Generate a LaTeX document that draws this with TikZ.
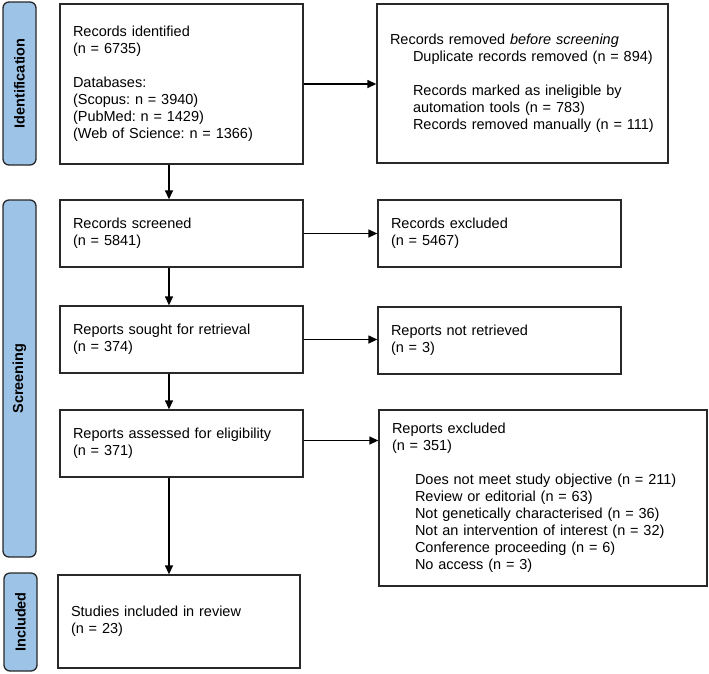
\documentclass[tikz,border=0pt]{standalone}
\usepackage{fontspec}
\setmainfont{Liberation Sans}
\frenchspacing
\usetikzlibrary{arrows.meta}
\definecolor{labfill}{RGB}{157,195,230}
\definecolor{edge}{RGB}{40,40,40}
\begin{document}
\begin{tikzpicture}[x=1pt, y=-1pt,
    box/.style={draw=edge, line width=1.3pt, align=left, inner xsep=13pt, inner ysep=2pt,
        font=\fontsize{14.5}{17}\selectfont},
    lab/.style={draw=edge, fill=labfill, line width=1.3pt, rounded corners=6pt, rotate=90,
        minimum height=33pt, inner sep=0pt, font=\fontsize{14.5}{17}\selectfont\bfseries},
    arr/.style={draw=black, line width=1.3pt, -{Triangle[length=9pt,width=8pt]}}]
        \useasboundingbox (0,0) rectangle (709,673);

        % phase labels
        \node[lab, minimum width=163pt] (idlab) at (19.5,83.5) {Identification};
        \node[lab, minimum width=357pt] (scrlab) at (19.5,378.5) {Screening};
        \node[lab, minimum width=98pt] (inclab) at (20.5,622) {Included};

        % left column
        \node[box, text width=217pt, minimum height=160pt] (ident) at (181.5,84) {Records identified\\(n = 6735)\\[17pt]Databases:\\(Scopus: n = 3940)\\(PubMed: n = 1429)\\(Web of Science: n = 1366)};
        \node[box, text width=217pt, minimum height=67pt] (screen) at (181.5,233.5) {Records screened\\(n = 5841)};
        \node[box, text width=217pt, minimum height=67pt] (sought) at (181.5,339.5) {Reports sought for retrieval\\(n = 374)};
        \node[box, text width=217pt, minimum height=67pt] (assess) at (181.5,443.5) {Reports assessed for eligibility\\(n = 371)};
        \node[box, text width=216pt, minimum height=93pt] (incl) at (179,621.5) {Studies included in review\\(n = 23)};

        % right column
        \node[box, text width=265pt, minimum height=159pt] (removed) at (522.5,83.5) {Records removed \textit{before screening}\\\hspace*{23pt}Duplicate records removed (n = 894)\\[17pt]\hspace*{23pt}Records marked as ineligible by\\\hspace*{23pt}automation tools (n = 783)\\\hspace*{23pt}Records removed manually (n = 111)};
        \node[box, text width=217pt, minimum height=67pt] (excl) at (499.5,233.5) {Records excluded\\(n = 5467)};
        \node[box, text width=217pt, minimum height=67pt] (notret) at (499.5,340.5) {Reports not retrieved\\(n = 3)};
        \node[box, text width=302pt, minimum height=176pt] (repexcl) at (543,498) {Reports excluded\\(n = 351)\\[17pt]\hspace*{23pt}Does not meet study objective (n = 211)\\\hspace*{23pt}Review or editorial (n = 63)\\\hspace*{23pt}Not genetically characterised (n = 36)\\\hspace*{23pt}Not an intervention of interest (n = 32)\\\hspace*{23pt}Conference proceeding (n = 6)\\\hspace*{23pt}No access (n = 3)};

        % connectors
        \draw[arr] ([xshift=-12.5pt]ident.south) -- ([xshift=-12.5pt]screen.north);
        \draw[arr] ([xshift=-12.5pt]screen.south) -- ([xshift=-12.5pt]sought.north);
        \draw[arr] ([xshift=-12.5pt]sought.south) -- ([xshift=-12.5pt]assess.north);
        \draw[arr] ([xshift=-12.5pt]assess.south) -- ([xshift=-12.5pt]assess.south |- incl.north);

        \draw[arr] (ident.east) -- (ident.east -| removed.west);
        \draw[arr] (screen.east) -- (screen.east -| excl.west);
        \draw[arr] (sought.east) -- (sought.east -| notret.west);
        \draw[arr] ([yshift=3pt]assess.east) -- ([yshift=3pt]assess.east -| repexcl.west);
    \end{tikzpicture}
\end{document}
